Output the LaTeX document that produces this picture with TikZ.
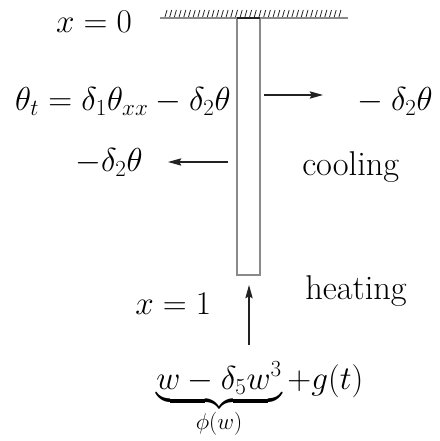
\documentclass[tikz,border=0pt]{standalone}
\usepackage{amsmath,amssymb}
\usepackage{tikz}
\usetikzlibrary{arrows.meta}
\definecolor{ink}{HTML}{222222}
\definecolor{rodgray}{HTML}{8A8A8A}
\tikzset{
  >={Stealth[length=10pt,width=5.5pt,inset=1.5pt]},
  lbl/.style={font=\fontsize{23}{28}\selectfont, inner sep=0pt},
  word/.style={font=\fontsize{25.8}{30}\selectfont, inner sep=0pt},
  flux/.style={->, line width=.8pt, color=ink},
  wall/.style={draw=rodgray, line width=.9pt}
}
\begin{document}
\begin{tikzpicture}[x=.75pt,y=.75pt]
  \useasboundingbox (0,0) rectangle (439,441);

  % ceiling with hatching
  \draw[wall] (160,423) -- (348,423);
  \foreach \i in {0,...,37}{
    \draw[ink, line width=.6pt] ({165+4.7*\i},424) -- ({167+4.7*\i},431);
  }

  % rod
  \draw[wall] (237,166) rectangle (260,423);
  \draw[ink, line width=1.6pt] (237,423) -- (260,423);
  \coordinate (rodR) at (264,346);
  \coordinate (rodL) at (228,279);
  \coordinate (rodB) at (249,156);

  % labels
  \node[lbl, anchor=base] (top) at (94,408) {$x=0$};
  \node[lbl, anchor=base east] (pde) at (231,330) {$\theta_t=\delta_1\theta_{xx}-\delta_2\theta$};
  \node[lbl, anchor=base east] (lossR) at (433,330) {${}-\delta_2\theta$};
  \node[lbl, anchor=base east] (lossL) at (143,269) {$-\delta_2\theta$};
  \node[word, anchor=base west] (cool) at (302,265) {cooling};
  \node[word, anchor=base west] (heat) at (305,141) {heating};
  \node[lbl, anchor=base west] (bot) at (135,126) {$x=1$};
  \node[lbl, anchor=base west] (src) at (156,51) {$\underbrace{w-\delta_5w^3}_{\phi(w)}+g(t)$};

  % fluxes
  \coordinate (tipR) at (323,346);
  \coordinate (tipL) at (168,279);
  \coordinate (tailB) at (249,96);
  \draw[flux] (rodR) -- (tipR);
  \draw[flux] (rodL) -- (tipL);
  \draw[flux] (tailB) -- (rodB);
\end{tikzpicture}
\end{document}
